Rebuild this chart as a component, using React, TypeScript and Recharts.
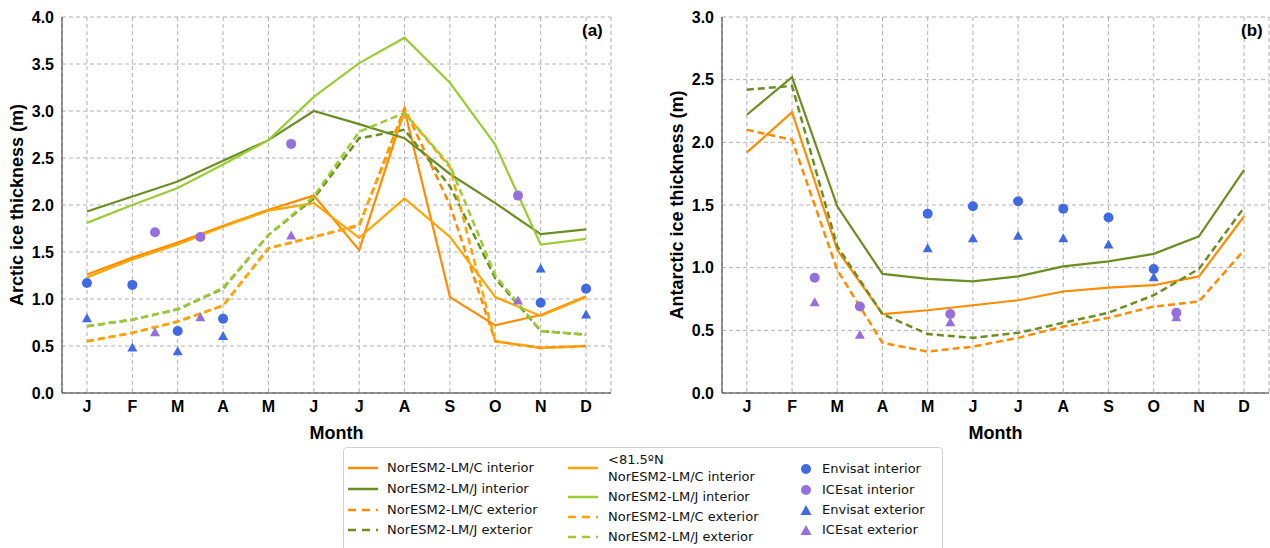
import {
  ComposedChart,
  Line,
  Scatter,
  XAxis,
  YAxis,
  CartesianGrid,
} from "recharts";

const monthLetters = ["J", "F", "M", "A", "M", "J", "J", "A", "S", "O", "N", "D"];
const months = [1, 2, 3, 4, 5, 6, 7, 8, 9, 10, 11, 12];

// panel (a) arctic
const arcCInt = [1.26, 1.44, 1.6, 1.78, 1.95, 2.1, 1.52, 3.01, 1.02, 0.72, 0.83, 1.03];
const arcJInt = [1.93, 2.09, 2.25, 2.47, 2.69, 3.0, 2.86, 2.71, 2.33, 2.02, 1.69, 1.74];
const arcCExt = [0.55, 0.64, 0.76, 0.93, 1.54, 1.66, 1.78, 3.03, 2.0, 0.55, 0.48, 0.5];
const arcJExt = [0.71, 0.78, 0.89, 1.11, 1.68, 2.07, 2.71, 2.8, 2.2, 1.22, 0.66, 0.62];
const arcCInt81 = [1.23, 1.42, 1.58, 1.77, 1.94, 2.02, 1.65, 2.07, 1.66, 1.02, 0.82, 1.02];
const arcJInt81 = [1.81, 2.0, 2.18, 2.43, 2.69, 3.15, 3.51, 3.78, 3.3, 2.64, 1.58, 1.64];
const arcCExt81 = [0.55, 0.64, 0.76, 0.93, 1.54, 1.66, 1.79, 2.98, 2.4, 0.55, 0.48, 0.5];
const arcJExt81 = [0.71, 0.78, 0.89, 1.12, 1.68, 2.09, 2.78, 2.98, 2.42, 1.25, 0.66, 0.62];

const arcEnvMonths = [1, 2, 3, 4, 11, 12];
const arcEnvInt = [1.17, 1.15, 0.66, 0.79, 0.96, 1.11];
const arcEnvExt = [0.79, 0.48, 0.44, 0.6, 1.32, 0.83];
const iceMonths = [2.5, 3.5, 5.5, 10.5];
const arcIceInt = [1.71, 1.66, 2.65, 2.1];
const arcIceExt = [0.64, 0.8, 1.67, 0.98];

// panel (b) antarctic
const antCInt = [1.92, 2.24, 1.14, 0.63, 0.66, 0.7, 0.74, 0.81, 0.84, 0.86, 0.93, 1.41];
const antJInt = [2.22, 2.52, 1.49, 0.95, 0.91, 0.89, 0.93, 1.01, 1.05, 1.11, 1.25, 1.78];
const antCExt = [2.1, 2.02, 0.98, 0.4, 0.33, 0.37, 0.44, 0.53, 0.6, 0.69, 0.73, 1.14];
const antJExt = [2.42, 2.45, 1.17, 0.63, 0.47, 0.44, 0.48, 0.56, 0.64, 0.78, 0.99, 1.48];

const antEnvMonths = [5, 6, 7, 8, 9, 10];
const antEnvInt = [1.43, 1.49, 1.53, 1.47, 1.4, 0.99];
const antEnvExt = [1.15, 1.23, 1.25, 1.23, 1.18, 0.92];
const antIceInt = [0.92, 0.69, 0.63, 0.64];
const antIceExt = [0.72, 0.46, 0.56, 0.6];

const DORANGE = "#ff8c00";
const ORANGE = "#ffa500";
const OLIVE = "#6b8e23";
const YGREEN = "#9acd32";
const BLUE = "#4169e1";
const PURPLE = "#9370db";

const pts = (xs: number[], ys: number[]) => xs.map((x, i) => ({ x, y: ys[i] }));

type Series = { vals: number[]; color: string; dashed?: boolean };

const FONT = "Liberation Sans, Arial, sans-serif";
const tickFont = { fontSize: 16, fontWeight: "bold", fill: "#000", fontFamily: FONT };
const axisLabelStyle = { fontSize: 18, fontWeight: "bold", fill: "#000", fontFamily: FONT };

const dotShape = (color: string) => (p: any) => (
  <circle cx={p.cx} cy={p.cy} r={5} fill={color} />
);
const triShape = (color: string) => (p: any) => (
  <polygon
    points={`${p.cx},${p.cy - 5.5} ${p.cx + 5},${p.cy + 3.5} ${p.cx - 5},${p.cy + 3.5}`}
    fill={color}
  />
);

function Panel(props: {
  width: number;
  marginRight: number;
  yMax: number;
  yTicks: number[];
  yLabel: string;
  lines: Series[];
  envMonths: number[];
  envInt: number[];
  envExt: number[];
  iceInt: number[];
  iceExt: number[];
}) {
  return (
    <ComposedChart
      width={props.width}
      height={452}
      margin={{ top: 17, right: props.marginRight, left: 0, bottom: 0 }}
    >
      <CartesianGrid stroke="#b0b0b0" strokeDasharray="4 3" />
      <XAxis
        dataKey="x"
        type="number"
        domain={[0.45, 12.55]}
        ticks={months}
        tickFormatter={(v) => monthLetters[v - 1]}
        allowDataOverflow
        height={59}
        tickLine={false}
        axisLine={{ stroke: "#333" }}
        tick={tickFont}
        label={{ value: "Month", position: "insideBottom", offset: 13, style: axisLabelStyle }}
      />
      <XAxis xAxisId="t" orientation="top" type="number" domain={[0, 1]} height={0} tick={false} tickLine={false} axisLine={{ stroke: "#333" }} />
      <YAxis
        type="number"
        domain={[0, props.yMax]}
        ticks={props.yTicks}
        tickFormatter={(v) => v.toFixed(1)}
        width={62}
        tickLine={false}
        axisLine={{ stroke: "#333" }}
        tick={tickFont}
        label={{
          value: props.yLabel,
          angle: -90,
          position: "insideLeft",
          offset: 17,
          style: { ...axisLabelStyle, textAnchor: "middle" },
        }}
      />
      <YAxis yAxisId="r" orientation="right" type="number" domain={[0, 1]} width={0} tick={false} tickLine={false} axisLine={{ stroke: "#333" }} />
      <Scatter data={pts(props.envMonths, props.envInt)} dataKey="y" shape={dotShape(BLUE)} isAnimationActive={false} />
      <Scatter data={pts(iceMonths, props.iceInt)} dataKey="y" shape={dotShape(PURPLE)} isAnimationActive={false} />
      <Scatter data={pts(props.envMonths, props.envExt)} dataKey="y" shape={triShape(BLUE)} isAnimationActive={false} />
      <Scatter data={pts(iceMonths, props.iceExt)} dataKey="y" shape={triShape(PURPLE)} isAnimationActive={false} />
      {props.lines.map((s, i) => (
        <Line
          key={i}
          data={pts(months, s.vals)}
          dataKey="y"
          type="linear"
          stroke={s.color}
          strokeWidth={s.dashed ? 2.5 : 2.2}
          strokeDasharray={s.dashed ? "7 4" : undefined}
          dot={false}
          activeDot={false}
          isAnimationActive={false}
        />
      ))}
    </ComposedChart>
  );
}

function LegendLine({ color, dashed }: { color: string; dashed?: boolean }) {
  return (
    <svg width={30} height={6} style={{ display: "block" }}>
      <line x1={0} y1={3} x2={30} y2={3} stroke={color} strokeWidth={2.5} strokeDasharray={dashed ? "8 6" : undefined} />
    </svg>
  );
}

const legFont: React.CSSProperties = {
  position: "absolute",
  fontFamily: "DejaVu Sans",
  fontSize: 13,
  color: "#111",
  whiteSpace: "nowrap",
  lineHeight: "16px",
};

export default function App() {
  const col1 = [
    { label: "NorESM2-LM/C interior", color: DORANGE, dashed: false, y: 468 },
    { label: "NorESM2-LM/J interior", color: OLIVE, dashed: false, y: 489 },
    { label: "NorESM2-LM/C exterior", color: DORANGE, dashed: true, y: 510 },
    { label: "NorESM2-LM/J exterior", color: OLIVE, dashed: true, y: 530 },
  ];
  const col2 = [
    { label: "NorESM2-LM/J interior", color: YGREEN, dashed: false, y: 497 },
    { label: "NorESM2-LM/C exterior", color: ORANGE, dashed: true, y: 517 },
    { label: "NorESM2-LM/J exterior", color: YGREEN, dashed: true, y: 537 },
  ];
  const col3 = [
    { label: "Envisat interior", color: BLUE, tri: false, y: 469 },
    { label: "ICEsat interior", color: PURPLE, tri: false, y: 490 },
    { label: "Envisat exterior", color: BLUE, tri: true, y: 510 },
    { label: "ICEsat exterior", color: PURPLE, tri: true, y: 530 },
  ];
  return (
    <div style={{ position: "absolute", left: 0, top: 0, width: 1270, height: 548, overflow: "hidden", background: "#fff" }}>
      <div style={{ position: "absolute", left: 0, top: 0 }}>
        <Panel
          width={615}
          marginRight={4}
          yMax={4}
          yTicks={[0, 0.5, 1, 1.5, 2, 2.5, 3, 3.5, 4]}
          yLabel="Arctic ice thickness (m)"
          lines={[
            { vals: arcCInt, color: DORANGE },
            { vals: arcJInt, color: OLIVE },
            { vals: arcCExt, color: DORANGE, dashed: true },
            { vals: arcJExt, color: OLIVE, dashed: true },
            { vals: arcCInt81, color: ORANGE },
            { vals: arcJInt81, color: YGREEN },
            { vals: arcCExt81, color: ORANGE, dashed: true },
            { vals: arcJExt81, color: YGREEN, dashed: true },
          ]}
          envMonths={arcEnvMonths}
          envInt={arcEnvInt}
          envExt={arcEnvExt}
          iceInt={arcIceInt}
          iceExt={arcIceExt}
        />
      </div>
      <div style={{ position: "absolute", left: 660, top: 0 }}>
        <Panel
          width={610}
          marginRight={1}
          yMax={3}
          yTicks={[0, 0.5, 1, 1.5, 2, 2.5, 3]}
          yLabel="Antarctic ice thickness (m)"
          lines={[
            { vals: antCInt, color: DORANGE },
            { vals: antJInt, color: OLIVE },
            { vals: antCExt, color: DORANGE, dashed: true },
            { vals: antJExt, color: OLIVE, dashed: true },
          ]}
          envMonths={antEnvMonths}
          envInt={antEnvInt}
          envExt={antEnvExt}
          iceInt={antIceInt}
          iceExt={antIceExt}
        />
      </div>
      <div style={{ position: "absolute", left: 582, top: 21, font: `bold 17px ${FONT}` }}>(a)</div>
      <div style={{ position: "absolute", left: 1241, top: 21, font: `bold 17px ${FONT}` }}>(b)</div>

      <div
        style={{
          position: "absolute",
          left: 343,
          top: 447,
          width: 600,
          height: 120,
          border: "1px solid #d0d0d0",
          borderRadius: 4,
          boxSizing: "border-box",
          background: "#fff",
        }}
      />
      {col1.map((e) => (
        <div key={e.label + e.y}>
          <div style={{ position: "absolute", left: 348, top: e.y - 3 }}>
            <LegendLine color={e.color} dashed={e.dashed} />
          </div>
          <div style={{ ...legFont, left: 387, top: e.y - 8 }}>{e.label}</div>
        </div>
      ))}
      <div style={{ position: "absolute", left: 568, top: 465 }}>
        <LegendLine color={ORANGE} />
      </div>
      <div style={{ ...legFont, left: 608, top: 452 }}>&lt;81.5ºN</div>
      <div style={{ ...legFont, left: 608, top: 469 }}>NorESM2-LM/C interior</div>
      {col2.map((e) => (
        <div key={e.label + e.y}>
          <div style={{ position: "absolute", left: 568, top: e.y - 3 }}>
            <LegendLine color={e.color} dashed={e.dashed} />
          </div>
          <div style={{ ...legFont, left: 608, top: e.y - 8 }}>{e.label}</div>
        </div>
      ))}
      {col3.map((e) => (
        <div key={e.label}>
          <svg style={{ position: "absolute", left: 800, top: e.y - 6 }} width={12} height={12}>
            {e.tri ? <polygon points="6,1 11.5,11 0.5,11" fill={e.color} /> : <circle cx={6} cy={6} r={5} fill={e.color} />}
          </svg>
          <div style={{ ...legFont, left: 822, top: e.y - 8 }}>{e.label}</div>
        </div>
      ))}
    </div>
  );
}
